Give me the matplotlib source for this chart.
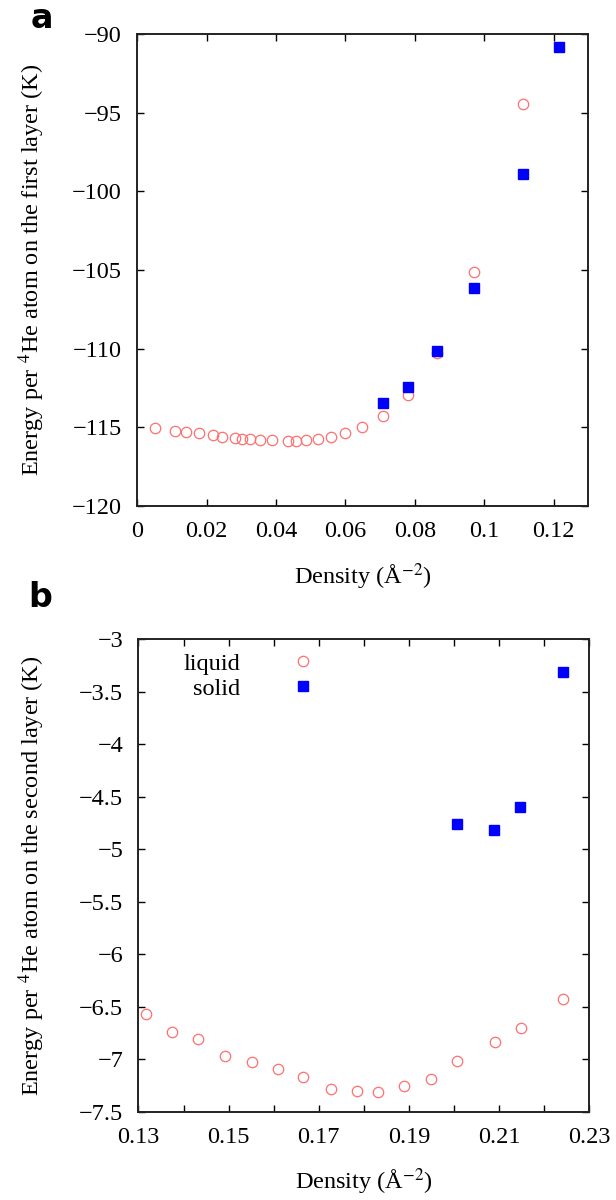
import matplotlib
matplotlib.use('Agg')
import matplotlib.pyplot as plt
from matplotlib.ticker import MultipleLocator, FixedLocator, FuncFormatter

plt.rcParams['font.family'] = ['Liberation Serif', 'DejaVu Serif']
plt.rcParams['mathtext.fontset'] = 'stix'

FS = 17.5

# panel a: first layer
a_liq_x = [0.0051, 0.0108, 0.0140, 0.0177, 0.0217, 0.0245, 0.0281, 0.0303, 0.0326,
           0.0355, 0.0389, 0.0434, 0.0458, 0.0487, 0.0520, 0.0557, 0.0600, 0.0649,
           0.0707, 0.0779, 0.0865, 0.0972, 0.1111]
a_liq_e = [-115.07, -115.22, -115.28, -115.38, -115.49, -115.60, -115.66, -115.73,
           -115.77, -115.81, -115.81, -115.85, -115.85, -115.81, -115.73, -115.60,
           -115.35, -115.00, -114.27, -112.95, -110.30, -105.11, -94.47]
a_sol_x = [0.0707, 0.0779, 0.0865, 0.0972, 0.1111, 0.1215]
a_sol_e = [-113.48, -112.42, -110.15, -106.13, -98.92, -90.85]

# panel b: second layer
b_liq_x = [0.1317, 0.1375, 0.1433, 0.1492, 0.1551, 0.1610, 0.1666, 0.1726, 0.1784,
           0.1831, 0.1890, 0.1948, 0.2007, 0.2091, 0.2149, 0.2242]
b_liq_e = [-6.57, -6.74, -6.81, -6.97, -7.03, -7.09, -7.17, -7.28, -7.30, -7.31,
           -7.26, -7.19, -7.02, -6.84, -6.70, -6.43]
b_sol_x = [0.2007, 0.2089, 0.2146, 0.2241]
b_sol_e = [-4.76, -4.82, -4.60, -3.31]

b_xticks = [0.13, 0.15, 0.17, 0.19, 0.21, 0.23]

liq_color = '#ff6f6f'
sol_color = '#0000ff'


def fmt(v, pos):
    return ('%g' % round(v, 6)).replace('-', '\u2212')


def style(ax):
    ax.tick_params(which='both', direction='in', top=True, right=True,
                   length=5, width=1, labelsize=FS, pad=11)
    for s in ax.spines.values():
        s.set_linewidth(1.4)
        s.set_color('#222222')
    ax.xaxis.set_major_formatter(FuncFormatter(fmt))
    ax.yaxis.set_major_formatter(FuncFormatter(fmt))


fig = plt.figure(figsize=(6.16, 12), dpi=100)
ax1 = fig.add_axes([0.2229, 0.5783, 0.7321, 0.3933])
ax2 = fig.add_axes([0.2248, 0.0736, 0.7318, 0.3937])

ax1.plot(a_liq_x, a_liq_e, 'o', mfc='none', mec=liq_color, mew=0.9, ms=7.5, ls='none')
ax1.plot(a_sol_x, a_sol_e, 's', color=sol_color, ms=6.5, ls='none')
ax1.set_xlim(0, 0.13)
ax1.set_ylim(-120, -90)
ax1.xaxis.set_major_locator(MultipleLocator(0.02))
ax1.yaxis.set_major_locator(MultipleLocator(5))
style(ax1)
ax1.set_xlabel('Density (Å$^{-2}$)', fontsize=FS, labelpad=14)
ax1.set_ylabel('Energy per $^{4}$He atom on the first layer (K)', fontsize=FS)
ax1.yaxis.set_label_coords(-0.200, 0.5)

ax2.plot(b_liq_x, b_liq_e, 'o', mfc='none', mec=liq_color, mew=0.9, ms=7.5, ls='none',
         label='liquid')
ax2.plot(b_sol_x, b_sol_e, 's', color=sol_color, ms=6.5, ls='none', label='solid')
ax2.set_xlim(0.13, 0.23)
ax2.set_ylim(-7.5, -3)
ax2.xaxis.set_major_locator(FixedLocator(b_xticks))
ax2.xaxis.set_minor_locator(MultipleLocator(0.01))
ax2.yaxis.set_major_locator(MultipleLocator(0.5))
style(ax2)
ax2.set_xlabel('Density (Å$^{-2}$)', fontsize=FS, labelpad=13)
ax2.set_ylabel('Energy per $^{4}$He atom on the second layer (K)', fontsize=FS)
ax2.yaxis.set_label_coords(-0.203, 0.5)
ax2.legend(loc='upper left', frameon=False, markerfirst=False, fontsize=FS,
           handletextpad=1.6, labelspacing=0.12, borderaxespad=0.15,
           bbox_to_anchor=(0.07, 1.0))

fig.text(0.068, 0.985, 'a', family='DejaVu Sans', weight='bold', fontsize=24,
         ha='center', va='center')
fig.text(0.066, 0.502, 'b', family='DejaVu Sans', weight='bold', fontsize=24,
         ha='center', va='center')

fig.savefig('out.png', dpi=100)
